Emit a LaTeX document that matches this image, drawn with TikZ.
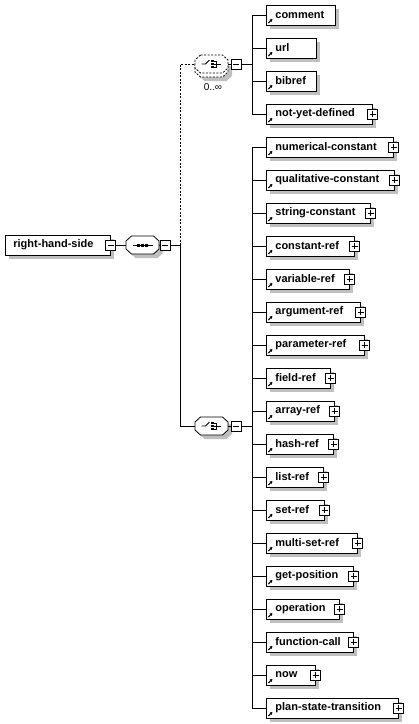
\documentclass[tikz,border=0pt]{standalone}
\usepackage{fontspec}
\setmainfont{Liberation Sans}
\usetikzlibrary{arrows.meta}

% octagon of a compositor, around the centre of a node
\newcommand\octpath[3]{([shift={(-11pt+#2,9pt+#3)}]#1.center) -- ([shift={(11pt+#2,9pt+#3)}]#1.center)
  -- ([shift={(16.5pt+#2,4pt+#3)}]#1.center) -- ([shift={(16.5pt+#2,-4pt+#3)}]#1.center)
  -- ([shift={(11pt+#2,-9pt+#3)}]#1.center) -- ([shift={(-11pt+#2,-9pt+#3)}]#1.center)
  -- ([shift={(-16.5pt+#2,-4pt+#3)}]#1.center) -- ([shift={(-16.5pt+#2,4pt+#3)}]#1.center) -- cycle}
\newcommand\octshadow[1]{\fill[black!25] \octpath{#1}{4pt}{-4pt};}
\newcommand\octagon[2][]{\draw[fill=white,#1] \octpath{#2}{0pt}{0pt};}
\newcommand\seqicon[1]{\draw ([xshift=-10pt]#1.center) -- ([xshift=10pt]#1.center);
  \foreach \d in {-4,0,4} \fill ([xshift=\d pt]#1.center) +(-1.5pt,-1.5pt) rectangle +(1.5pt,1.5pt);}
\newcommand\choiceicon[1]{\draw ([xshift=-10pt]#1.center) -- ([xshift=-6pt]#1.center) -- ([shift={(-2pt,4pt)}]#1.center);
  \foreach \d in {-3,0,3} {
    \fill ([shift={(1pt,\d pt)}]#1.center) +(-1.2pt,-1.2pt) rectangle +(1.2pt,1.2pt);
    \draw ([shift={(2pt,\d pt)}]#1.center) -- ([shift={(5pt,\d pt)}]#1.center);}
  \draw ([shift={(5pt,-3.4pt)}]#1.center) -- ([shift={(5pt,3.4pt)}]#1.center);
  \draw ([xshift=5pt]#1.center) -- ([xshift=9pt]#1.center);}

\begin{document}
\begin{tikzpicture}
  [x=1pt,y=-1pt,line width=0.8pt,
   every node/.style={font=\fontsize{11}{13}\selectfont\bfseries},
   box/.style={draw,fill=white,anchor=west,minimum height=20pt,inner ysep=0pt,align=left},
   elem/.style={box,inner xsep=9pt,text width=#1,
     path picture={\draw[-{Triangle[length=2.5pt,width=3pt]},line width=1pt]
       ([shift={(2pt,2pt)}]path picture bounding box.south west) -- ++(4pt,4pt);}},
   pm/.style={draw,fill=white,minimum size=10pt,inner sep=0pt},
   minus/.style={pm,path picture={\draw ([xshift=2pt]path picture bounding box.west) -- ([xshift=-2pt]path picture bounding box.east);}},
   plus/.style={pm,path picture={\draw ([xshift=2pt]path picture bounding box.west) -- ([xshift=-2pt]path picture bounding box.east);
     \draw ([yshift=-2pt]path picture bounding box.north) -- ([yshift=2pt]path picture bounding box.south);}},
   compositor/.style={minimum width=33pt,minimum height=18pt,inner sep=0pt},
   optional/.style={dash pattern=on 2pt off 1.5pt}]
  \useasboundingbox (0,0) rectangle (419,724);

  % shadows of the boxes, drawn first
  \fill[black!25] (9,239) rectangle (114,259);
  \foreach \y/\r in {15/335,48/316,81/316,114/372,147/393,180/394,213/370,246/354,279/349,
      312/360,345/364,378/330,411/334,444/333,477/323,510/324,543/357,576/353,609/339,
      642/353,675/315,708/398}
    \fill[black!25] (270,\y-6) rectangle (\r+4,\y+14);

  % root and sequence
  \node[box,inner xsep=8pt,text width=89pt] (rhs) at (5,245) {right-hand-side};
  \node[minus] (rhsm) at (rhs.east) {};
  \node[compositor] (seq) at (142.5,245) {};
  \octshadow{seq} \octagon{seq} \seqicon{seq}
  \node[minus] (seqm) at (165,245) {};
  \coordinate (j0) at (180,245);

  % first choice, 0..oo
  \node[compositor] (ch1b) at (211.5,68) {};
  \node[compositor] (ch1) at (211.5,64) {};
  \octshadow{ch1b} \octagon[optional]{ch1b} \octagon[optional]{ch1} \choiceicon{ch1}
  \node[minus] (ch1m) at (236,64) {};
  \node[font=\fontsize{10}{12}\selectfont] (ch1n) at (213,87) {0..∞};
  \coordinate (j1) at (252,64);

  % second choice
  \node[compositor] (ch2) at (211.5,426) {};
  \octshadow{ch2} \octagon{ch2} \choiceicon{ch2}
  \node[minus] (ch2m) at (236,426) {};
  \coordinate (j2) at (252,426);

  \node[elem=51pt] (comment) at (266,15) {comment};
  \node[elem=32pt] (url) at (266,48) {url};
  \node[elem=32pt] (bibref) at (266,81) {bibref};
  \node[elem=88pt] (nyd) at (266,114) {not-yet-defined};
  \node[plus] (nydp) at (nyd.east) {};

  \node[elem=109pt] (numconst) at (266,147) {numerical-constant};
  \node[plus] (numconstp) at (numconst.east) {};
  \node[elem=110pt] (qualconst) at (266,180) {qualitative-constant};
  \node[plus] (qualconstp) at (qualconst.east) {};
  \node[elem=86pt] (strconst) at (266,213) {string-constant};
  \node[plus] (strconstp) at (strconst.east) {};
  \node[elem=70pt] (constref) at (266,246) {constant-ref};
  \node[plus] (constrefp) at (constref.east) {};
  \node[elem=65pt] (varref) at (266,279) {variable-ref};
  \node[plus] (varrefp) at (varref.east) {};
  \node[elem=76pt] (argref) at (266,312) {argument-ref};
  \node[plus] (argrefp) at (argref.east) {};
  \node[elem=80pt] (paramref) at (266,345) {parameter-ref};
  \node[plus] (paramrefp) at (paramref.east) {};
  \node[elem=46pt] (fieldref) at (266,378) {field-ref};
  \node[plus] (fieldrefp) at (fieldref.east) {};
  \node[elem=50pt] (arrayref) at (266,411) {array-ref};
  \node[plus] (arrayrefp) at (arrayref.east) {};
  \node[elem=49pt] (hashref) at (266,444) {hash-ref};
  \node[plus] (hashrefp) at (hashref.east) {};
  \node[elem=39pt] (listref) at (266,477) {list-ref};
  \node[plus] (listrefp) at (listref.east) {};
  \node[elem=40pt] (setref) at (266,510) {set-ref};
  \node[plus] (setrefp) at (setref.east) {};
  \node[elem=73pt] (msetref) at (266,543) {multi-set-ref};
  \node[plus] (msetrefp) at (msetref.east) {};
  \node[elem=69pt] (getpos) at (266,576) {get-position};
  \node[plus] (getposp) at (getpos.east) {};
  \node[elem=55pt] (operation) at (266,609) {operation};
  \node[plus] (operationp) at (operation.east) {};
  \node[elem=69pt] (funcall) at (266,642) {function-call};
  \node[plus] (funcallp) at (funcall.east) {};
  \node[elem=31pt] (now) at (266,675) {now};
  \node[plus] (nowp) at (now.east) {};
  \node[elem=114pt] (pstrans) at (266,708) {plan-state-transition};
  \node[plus] (pstransp) at (pstrans.east) {};

  \draw (rhsm) -- (seq);
  \draw (seq) -- (seqm);
  \draw (seqm) -- (j0);
  \draw[optional] (j0) |- (ch1);
  \draw (j0) |- (ch2);
  \draw (ch1) -- (ch1m);
  \draw (ch2) -- (ch2m);
  \draw (ch1m) -- (j1);
  \draw (ch2m) -- (j2);

  \draw (j1 |- comment) -- (j1 |- nyd);
  \draw (j1 |- comment) -- (comment);
  \draw (j1 |- url) -- (url);
  \draw (j1 |- bibref) -- (bibref);
  \draw (j1 |- nyd) -- (nyd);

  \draw (j2 |- numconst) -- (j2 |- pstrans);
  \draw (j2 |- numconst) -- (numconst);
  \draw (j2 |- qualconst) -- (qualconst);
  \draw (j2 |- strconst) -- (strconst);
  \draw (j2 |- constref) -- (constref);
  \draw (j2 |- varref) -- (varref);
  \draw (j2 |- argref) -- (argref);
  \draw (j2 |- paramref) -- (paramref);
  \draw (j2 |- fieldref) -- (fieldref);
  \draw (j2 |- arrayref) -- (arrayref);
  \draw (j2 |- hashref) -- (hashref);
  \draw (j2 |- listref) -- (listref);
  \draw (j2 |- setref) -- (setref);
  \draw (j2 |- msetref) -- (msetref);
  \draw (j2 |- getpos) -- (getpos);
  \draw (j2 |- operation) -- (operation);
  \draw (j2 |- funcall) -- (funcall);
  \draw (j2 |- now) -- (now);
  \draw (j2 |- pstrans) -- (pstrans);
\end{tikzpicture}
\end{document}
